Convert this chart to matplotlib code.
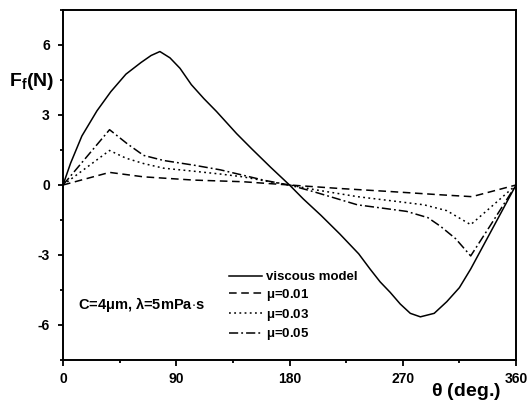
import matplotlib
matplotlib.use("Agg")
import matplotlib.pyplot as plt
from matplotlib.ticker import MultipleLocator

plt.rcParams['font.family'] = ['Liberation Sans', 'DejaVu Sans']
plt.rcParams['font.weight'] = 'bold'
plt.rcParams['axes.unicode_minus'] = False
plt.rcParams['mathtext.fontset'] = 'custom'
plt.rcParams['mathtext.rm'] = 'Liberation Sans:bold'
plt.rcParams['mathtext.bf'] = 'Liberation Sans:bold'
plt.rcParams['mathtext.it'] = 'Liberation Sans:bold'

# data
theta_visc = [0, 6, 15, 27, 38, 50, 62, 70, 77, 85, 93, 102, 112, 122, 138, 150, 165, 180,
              191, 205, 220, 235, 244, 252, 260, 268, 276, 284, 295, 305, 315, 324, 335, 345, 352, 360]
f_visc = [0, 0.93, 2.1, 3.18, 4.0, 4.75, 5.25, 5.55, 5.72, 5.45, 5.0, 4.3, 3.7, 3.15, 2.2, 1.55, 0.76, 0,
          -0.6, -1.3, -2.1, -2.95, -3.6, -4.15, -4.6, -5.1, -5.5, -5.65, -5.5, -5.0, -4.4, -3.6, -2.5, -1.5, -0.8, 0]

theta_m05 = [0, 37, 51, 64, 80, 104, 125, 143, 160, 180, 200, 234, 255, 273, 290, 300, 312, 324, 340, 360]
f_m05 = [0, 2.37, 1.77, 1.27, 1.05, 0.85, 0.65, 0.42, 0.2, 0, -0.3, -0.85, -1.0, -1.13, -1.4, -1.77, -2.3, -3.04, -1.7, 0]

theta_m03 = [0, 37, 50, 64, 80, 104, 125, 143, 160, 180, 200, 234, 260, 287, 305, 324, 340, 360]
f_m03 = [0, 1.48, 1.15, 0.92, 0.72, 0.59, 0.47, 0.35, 0.18, 0, -0.2, -0.5, -0.67, -0.85, -1.1, -1.7, -0.95, 0]

theta_m01 = [0, 37, 64, 104, 143, 180, 220, 260, 300, 325, 360]
f_m01 = [0, 0.54, 0.35, 0.21, 0.14, 0, -0.15, -0.28, -0.42, -0.5, 0]

labels = ['viscous model', r'$\mu$=0.01', r'$\mu$=0.03', r'$\mu$=0.05']

W, H = 529, 405
fig = plt.figure(figsize=(W / 100, H / 100), dpi=100)
ax = fig.add_axes([63 / W, 1 - 360 / H, (516 - 63) / W, (360 - 10) / H])

lw = 1.1
ax.plot(theta_visc, f_visc, color='black', lw=lw, ls='-', label=labels[0])
ax.plot(theta_m01, f_m01, color='black', lw=lw, dashes=(5, 3), label=labels[1])
ax.plot(theta_m03, f_m03, color='black', lw=lw, dashes=(1.2, 2.2), label=labels[2])
ax.plot(theta_m05, f_m05, color='black', lw=lw, dashes=(6, 2, 1.2, 2), label=labels[3])

ax.set_xlim(0, 360)
ax.set_ylim(-7.5, 7.5)
ax.xaxis.set_major_locator(MultipleLocator(90))
ax.xaxis.set_minor_locator(MultipleLocator(45))
ax.yaxis.set_major_locator(MultipleLocator(3))
ax.yaxis.set_minor_locator(MultipleLocator(1.5))
ax.tick_params(which='both', direction='out', top=False, right=False, labelsize=10)
ax.tick_params(axis='x', which='major', length=4.5, width=1.3, pad=4)
ax.tick_params(axis='x', which='minor', length=2.5, width=1.3)
ax.tick_params(axis='y', which='major', length=3.5, width=1.3, pad=6)
ax.tick_params(axis='y', which='minor', length=2.5, width=1.3)
for s in ax.spines.values():
    s.set_linewidth(1.4)
for t in ax.get_xticklabels() + ax.get_yticklabels():
    t.set_fontweight('bold')

leg = ax.legend(loc='upper left', bbox_to_anchor=(229 / W, 1 - 271 / H), bbox_transform=fig.transFigure,
                frameon=False, fontsize=9.5, handlelength=2.5, handletextpad=0.3,
                labelspacing=0.28, borderpad=0, borderaxespad=0)
for t in leg.get_texts():
    t.set_fontweight('bold')

fig.text(78 / W, 1 - 305 / H, r'C=4$\mu$m, $\lambda$=5mPa$\cdot$s', fontsize=10.5,
         fontweight='bold', ha='left', va='center')
fig.text(9 / W, 1 - 82 / H, r'F$_{\mathrm{f}}$(N)', fontsize=14, fontweight='bold',
         ha='left', va='center')
fig.text(501 / W, 1 - 391 / H, r'$\theta$ (deg.)', fontsize=14, fontweight='bold',
         ha='right', va='center')

fig.savefig('out.png', dpi=100)
